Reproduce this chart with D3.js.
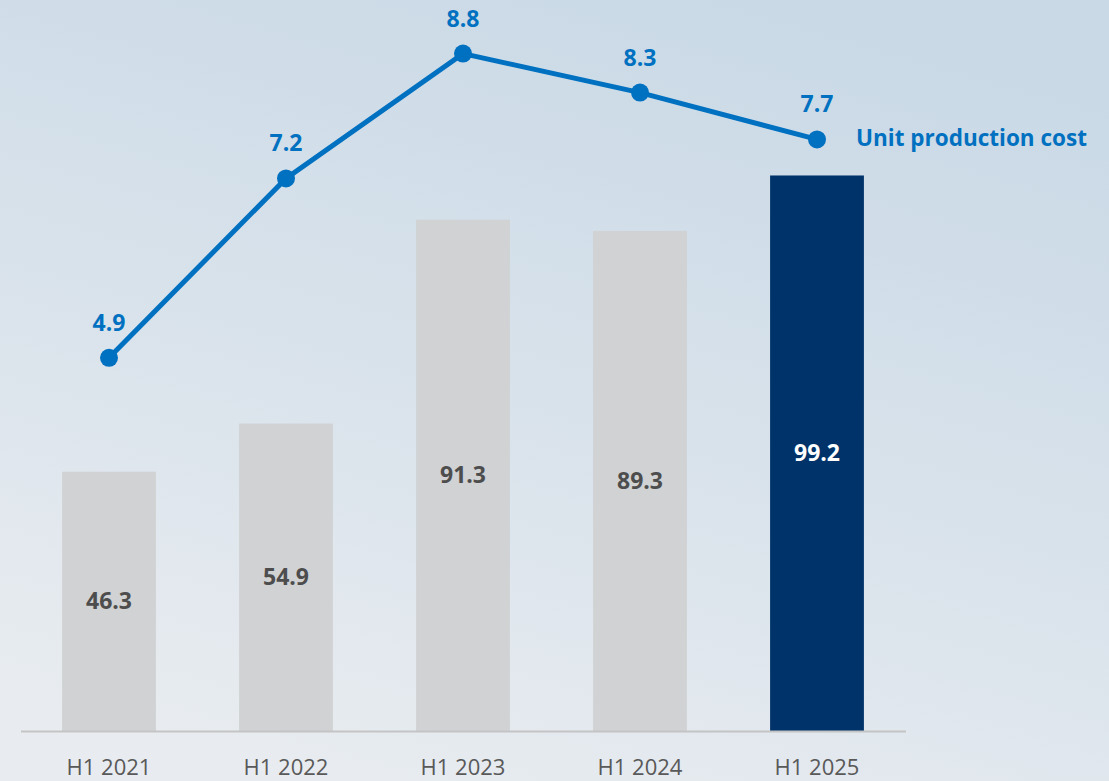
<!DOCTYPE html>
<html>
<head>
<meta charset="utf-8">
<script src="https://cdn.jsdelivr.net/npm/d3@7"></script>
<style>
  html, body { margin: 0; padding: 0; }
  body { width: 1109px; height: 781px; overflow: hidden; font-family: "Open Sans", "Noto Sans", sans-serif; }
</style>
</head>
<body>
<div id="chart"></div>
<script>
// data
const periods = ['H1 2021', 'H1 2022', 'H1 2023', 'H1 2024', 'H1 2025'];
const volumes = [46.3, 54.9, 91.3, 89.3, 99.2];
const unitCost = [4.9, 7.2, 8.8, 8.3, 7.7];
const lineLabel = 'Unit production cost';

const W = 1109, H = 781;
const base = 731;

const svg = d3.select('#chart').append('svg')
  .attr('width', W).attr('height', H);

const defs = svg.append('defs');
const grad = defs.append('linearGradient').attr('id', 'bg')
  .attr('x1', '70%').attr('y1', '0%').attr('x2', '30%').attr('y2', '100%');
grad.append('stop').attr('offset', '0%').attr('stop-color', '#c9d9e6');
grad.append('stop').attr('offset', '50%').attr('stop-color', '#d8e2eb');
grad.append('stop').attr('offset', '100%').attr('stop-color', '#e8ecf0');
svg.append('rect').attr('width', W).attr('height', H).attr('fill', 'url(#bg)');

const x = d3.scaleBand().domain(periods).range([20.5, 905.5]).paddingInner(0.47).paddingOuter(0.235);
const yBar = d3.scaleLinear().domain([0, 100]).range([base, base - 560]);
const yLine = d3.scaleLinear().domain([0, 10]).range([740, -40]);

// bars
svg.append('g').selectAll('rect').data(volumes).join('rect')
  .attr('x', (d, i) => x(periods[i]))
  .attr('width', x.bandwidth())
  .attr('y', d => yBar(d))
  .attr('height', d => base - yBar(d))
  .attr('fill', (d, i) => i === volumes.length - 1 ? '#003369' : '#d0d2d4');

svg.append('g').selectAll('text').data(volumes).join('text')
  .attr('x', (d, i) => x(periods[i]) + x.bandwidth() / 2)
  .attr('y', d => (yBar(d) + base) / 2 + 8)
  .attr('text-anchor', 'middle')
  .attr('font-size', 23).attr('font-weight', 700)
  .attr('fill', (d, i) => i === volumes.length - 1 ? '#ffffff' : '#4d4d4d')
  .text(d => d.toFixed(1));

// axis
const axis = svg.append('g').attr('transform', `translate(0,${base})`)
  .call(d3.axisBottom(x).tickSize(0).tickPadding(28));
axis.select('.domain').attr('stroke', '#c4c4c4').attr('stroke-width', 2);
axis.selectAll('text').attr('font-size', 22).attr('fill', '#595959')
  .attr('font-family', '"Open Sans", "Noto Sans", sans-serif');

// line
const cx = i => x(periods[i]) + x.bandwidth() / 2;
svg.append('path').datum(unitCost)
  .attr('fill', 'none').attr('stroke', '#0070c0').attr('stroke-width', 5)
  .attr('d', d3.line().x((d, i) => cx(i)).y(d => yLine(d)));

svg.append('g').selectAll('circle').data(unitCost).join('circle')
  .attr('cx', (d, i) => cx(i)).attr('cy', d => yLine(d))
  .attr('r', 9).attr('fill', '#0070c0');

svg.append('g').selectAll('text').data(unitCost).join('text')
  .attr('x', (d, i) => cx(i)).attr('y', d => yLine(d) - 27)
  .attr('text-anchor', 'middle')
  .attr('font-size', 23).attr('font-weight', 700).attr('fill', '#0070c0')
  .text(d => d.toFixed(1));

const last = unitCost.length - 1;
svg.append('text')
  .attr('x', cx(last) + 39).attr('y', yLine(unitCost[last]) + 7)
  .attr('font-size', 22.5).attr('font-weight', 700).attr('fill', '#0070c0')
  .text(lineLabel);
</script>
</body>
</html>
